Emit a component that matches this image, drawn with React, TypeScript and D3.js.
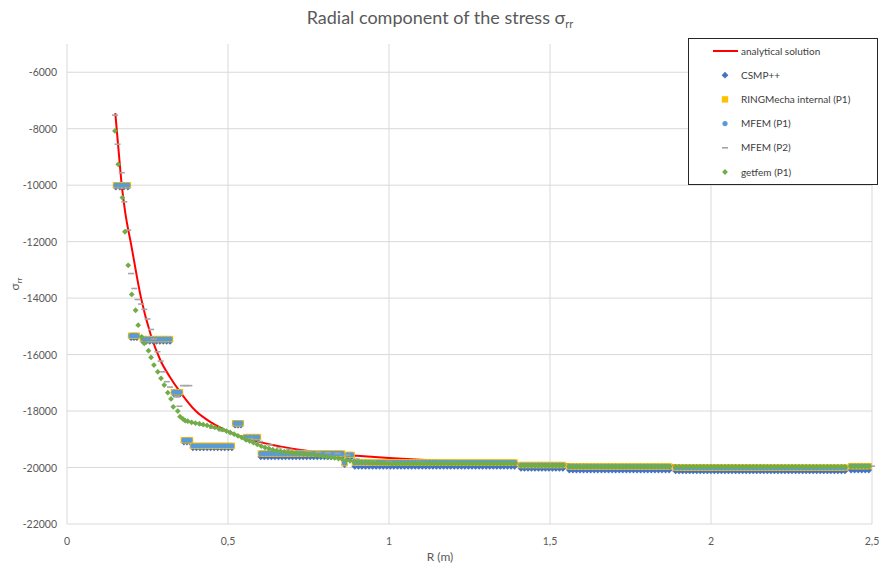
import { useMemo } from "react";
import { scaleLinear, line, curveMonotoneX } from "d3";

// analytical solution
const anaR = [0.15, 0.16, 0.17, 0.18, 0.2, 0.23, 0.26, 0.29, 0.32, 0.35, 0.4, 0.45, 0.5, 0.6, 0.7, 0.8, 0.9, 1.0, 1.2, 1.5, 2.0, 2.5];
const anaV = [-7450, -8750, -10000, -10900, -12150, -14000, -15300, -16200, -16800, -17300, -18000, -18420, -18720, -19100, -19330, -19480, -19580, -19660, -19780, -19870, -19930, -19950];

// piecewise constant FE results: element ranges (first/last node) and values
const segStart = [0.152, 0.199, 0.236, 0.332, 0.363, 0.391, 0.522, 0.556, 0.602, 0.862, 0.872, 0.894, 1.41, 1.56, 1.89, 2.435];
const segEnd = [0.189, 0.217, 0.32, 0.351, 0.382, 0.512, 0.54, 0.593, 0.854, 0.862, 0.884, 1.39, 1.54, 1.87, 2.416, 2.49];
const csmpV = [-10070, -15400, -15530, -17400, -19100, -19300, -18500, -18990, -19620, -19900, -19620, -19960, -20030, -20090, -20120, -20090];
const ringV = [-10000, -15330, -15450, -17330, -19030, -19230, -18430, -18920, -19500, -19840, -19550, -19820, -19910, -19960, -20000, -19950];
const mfem1V = [-10000, -15330, -15450, -17330, -19030, -19230, -18430, -18920, -19500, -19840, -19550, -19820, -19910, -19960, -20000, -19950];

// MFEM (P2) points
const p2R = [0.149, 0.157, 0.17, 0.178, 0.19, 0.199, 0.209, 0.219, 0.23, 0.24, 0.25, 0.261, 0.27, 0.281, 0.291, 0.299, 0.31, 0.32, 0.341, 0.349, 0.36, 0.37, 0.38, 0.39, 0.42, 0.45, 0.48, 0.51, 0.54, 0.57, 0.6, 0.63, 0.66, 0.69, 0.72, 0.75, 0.78, 0.81, 0.84, 0.87, 0.9, 0.95, 1.0, 1.1, 1.2, 1.3, 1.4, 1.5, 1.6, 1.7, 1.8, 1.9, 2.0, 2.1, 2.2, 2.3, 2.4, 2.5];
const p2V = [-7520, -8550, -9560, -10590, -11590, -13130, -13660, -14050, -14210, -14400, -14740, -15110, -15450, -15900, -16230, -16610, -16960, -17150, -17500, -17830, -17100, -17100, -17100, -18420, -18500, -18600, -18700, -18790, -18880, -18980, -19080, -19200, -19300, -19360, -19400, -19430, -19460, -19480, -19500, -19560, -19700, -19780, -19800, -19820, -19830, -19850, -19880, -19900, -19920, -19930, -19940, -19950, -19950, -19950, -19950, -19950, -19950, -19950];

// getfem (P1) points near the hole
const gfR = [0.149, 0.159, 0.172, 0.18, 0.19, 0.201, 0.213, 0.221, 0.232, 0.24, 0.253, 0.261, 0.27, 0.282, 0.292, 0.302, 0.313, 0.323, 0.33, 0.344, 0.351, 0.36, 0.367,
  0.375, 0.387, 0.399, 0.411, 0.423, 0.435, 0.447, 0.459, 0.471, 0.483, 0.495, 0.507, 0.519, 0.531, 0.543, 0.555, 0.567, 0.579, 0.591, 0.603, 0.615, 0.627, 0.639, 0.651, 0.663, 0.675, 0.687, 0.699, 0.711, 0.723, 0.735, 0.747, 0.759, 0.771, 0.783, 0.795, 0.807, 0.819, 0.831, 0.843, 0.855, 0.867, 0.879, 0.891, 0.903, 0.915, 0.927, 0.939, 0.951, 0.963, 0.975, 0.987, 0.999];
const gfV = [-8080, -9260, -10440, -11650, -12840, -13870, -14430, -14960, -15370, -15600, -15860, -16100, -16370, -16610, -16840, -17080, -17350, -17570, -17850, -18000, -18200, -18280, -18340,
  -18360, -18400, -18430, -18450, -18480, -18510, -18540, -18580, -18620, -18660, -18710, -18760, -18820, -18880, -18940, -19000, -19060, -19120, -19180, -19240, -19290, -19330, -19370, -19400, -19420, -19440, -19460, -19480, -19500, -19510, -19520, -19530, -19540, -19560, -19580, -19600, -19620, -19640, -19660, -19680, -19710, -19740, -19760, -19780, -19790, -19800, -19810, -19820, -19830, -19835, -19840, -19845, -19850];
// getfem far field, constant per element range
const gfSegStart = [1.01, 1.41, 1.56, 1.89, 2.435];
const gfSegEnd = [1.39, 1.54, 1.87, 2.416, 2.49];
const gfSegV = [-19860, -19930, -19960, -19970, -19960];

const xTicks = [0, 0.5, 1, 1.5, 2, 2.5];
const xTickLabels = ["0", "0,5", "1", "1,5", "2", "2,5"];
const yTicks = [-22000, -20000, -18000, -16000, -14000, -12000, -10000, -8000, -6000];

const legendNames = ["analytical solution", "CSMP++", "RINGMecha internal (P1)", "MFEM (P1)", "MFEM (P2)", "getfem (P1)"];

const W = 880, H = 570;
const M = { left: 67, right: 872, top: 44, bottom: 524 };
const FONT = "Lato, 'Open Sans', 'Noto Sans', sans-serif";
const TXT = "#595959";
const SPACING = 0.011; // node spacing of the meshes along r

function nodes(r0: number, r1: number) {
  const n = Math.max(1, Math.round((r1 - r0) / SPACING) + 1);
  if (n === 1) return [r0];
  return Array.from({ length: n }, (_d, i) => r0 + ((r1 - r0) * i) / (n - 1));
}

// Excel style diamond: a square turned 45 degrees
const rhomb = (s: number) => `M0,${-s}L${s},0L0,${s}L${-s},0Z`;

function Marker({ kind, x, y }: { kind: string; x: number; y: number }) {
  if (kind === "csmp") return <path d={rhomb(3.4)} transform={`translate(${x},${y})`} fill="#4472C4" />;
  if (kind === "ring") return <rect x={x - 3.2} y={y - 3.2} width={6.4} height={6.4} fill="#FFC000" />;
  if (kind === "mfem1") return <circle cx={x} cy={y} r={2.6} fill="#5B9BD5" />;
  if (kind === "mfem2") return <rect x={x - 3} y={y - 0.8} width={6} height={1.6} fill="#A5A5A5" />;
  return <path d={rhomb(2.9)} transform={`translate(${x},${y})`} fill="#70AD47" />;
}

export default function App() {
  const x = scaleLinear().domain([0, 2.5]).range([M.left, M.right]);
  const y = scaleLinear().domain([-22000, -5000]).range([M.bottom, M.top]);

  const anaPath = useMemo(() => {
    const pts = anaR.map((r, i) => [r, anaV[i]] as [number, number]);
    return line<[number, number]>()
      .x((d) => x(d[0]))
      .y((d) => y(d[1]))
      .curve(curveMonotoneX)(pts) || "";
  }, []);

  const stepPoints = (vals: number[]) =>
    segStart.flatMap((s, i) => nodes(s, segEnd[i]).map((r) => [r, vals[i]] as [number, number]));

  const series: [string, [number, number][]][] = [
    ["csmp", stepPoints(csmpV)],
    ["ring", stepPoints(ringV)],
    ["mfem1", stepPoints(mfem1V)],
    ["mfem2", p2R.map((r, i) => [r, p2V[i]] as [number, number])],
    [
      "getfem",
      [
        ...gfR.map((r, i) => [r, gfV[i]] as [number, number]),
        ...gfSegStart.flatMap((s, i) => nodes(s, gfSegEnd[i]).map((r) => [r, gfSegV[i]] as [number, number])),
      ],
    ],
  ];
  const legendKinds = ["line", "csmp", "ring", "mfem1", "mfem2", "getfem"];

  const lg = { x: 688, y: 38, w: 189, h: 146 };

  return (
    <svg width={W} height={H} style={{ position: "absolute", left: 0, top: 0, background: "#fff" }} fontFamily={FONT}>
      <rect width={W} height={H} fill="#fff" />
      <text x={440} y={24} textAnchor="middle" fontSize={18} fill={TXT}>
        Radial component of the stress σ<tspan fontSize={11} dy={4}>rr</tspan>
      </text>

      {/* grid */}
      {xTicks.map((t) => (
        <line key={"gx" + t} x1={x(t)} x2={x(t)} y1={M.top} y2={M.bottom} stroke="#D9D9D9" strokeWidth={1} />
      ))}
      {yTicks.map((t) => (
        <line key={"gy" + t} x1={M.left} x2={M.right} y1={y(t)} y2={y(t)} stroke="#D9D9D9" strokeWidth={1} />
      ))}

      {/* tick labels */}
      {yTicks.map((t) => (
        <text key={"ly" + t} x={57} y={y(t) + 4} textAnchor="end" fontSize={10.5} fill={TXT}>
          {t}
        </text>
      ))}
      {xTicks.map((t, i) => (
        <text key={"lx" + t} x={x(t)} y={545} textAnchor="middle" fontSize={10.5} fill={TXT}>
          {xTickLabels[i]}
        </text>
      ))}
      <text x={440} y={561} textAnchor="middle" fontSize={12} fill={TXT}>R (m)</text>
      <text transform="translate(19,284) rotate(-90)" textAnchor="middle" fontSize={12} fill={TXT}>
        σ<tspan fontSize={8} dy={3}>rr</tspan>
      </text>

      <path d={anaPath} fill="none" stroke="#FF0000" strokeWidth={2} strokeLinejoin="round" />

      {series.map(([kind, pts]) =>
        pts.map((p, i) => <Marker key={kind + i} kind={kind} x={x(p[0])} y={y(p[1])} />)
      )}

      {/* legend */}
      <rect x={lg.x + 0.5} y={lg.y + 0.5} width={lg.w} height={lg.h} fill="#fff" stroke="#262626" strokeWidth={1} />
      {legendNames.map((name, i) => {
        const cy = 51 + i * 24.2;
        const kind = legendKinds[i];
        return (
          <g key={name}>
            {kind === "line" ? (
              <line x1={713} x2={738} y1={cy} y2={cy} stroke="#FF0000" strokeWidth={2} />
            ) : (
              <Marker kind={kind} x={725} y={cy} />
            )}
            <text x={741} y={cy + 3.5} fontSize={10} fill="#404040">
              {name}
            </text>
          </g>
        );
      })}
    </svg>
  );
}
